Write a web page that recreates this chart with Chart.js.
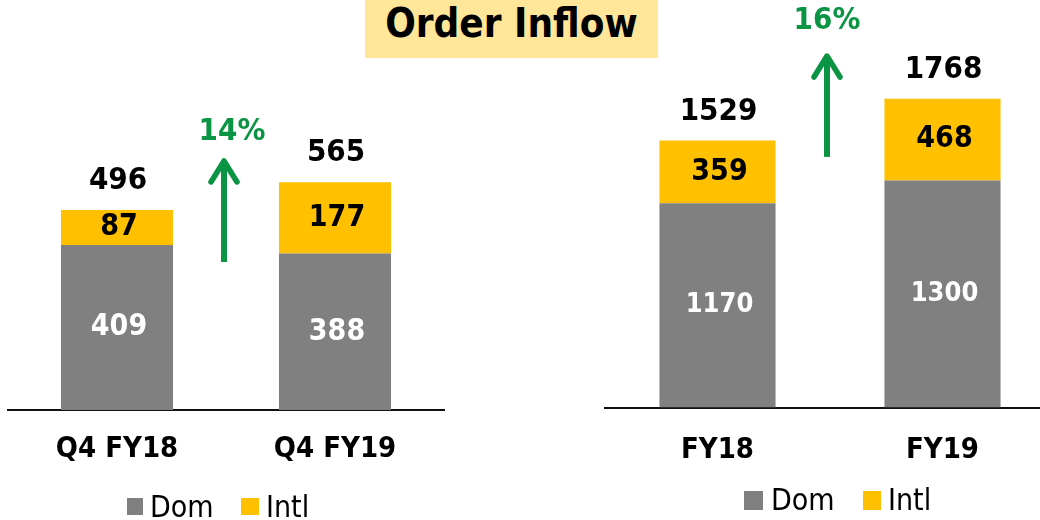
<!DOCTYPE html>
<html>
<head>
<meta charset="utf-8">
<script src="https://cdn.jsdelivr.net/npm/chart.js@4.4.1/dist/chart.umd.min.js"></script>
<style>
  html, body { margin: 0; padding: 0; }
  body { width: 1040px; height: 520px; overflow: hidden; background: #fff; position: relative;
         font-family: 'DejaVu Sans Condensed', 'DejaVu Sans', sans-serif; }
  canvas { position: absolute; top: 0; }
  #left { left: 0; }
  #right { left: 600px; }
  #title { position: absolute; left: 365px; top: 0; width: 293px; height: 58px; background: #FFE699;
           text-align: center; font-weight: bold; font-size: 40px; line-height: 47px; color: #000; }
  .sq { position: absolute; }
  .lg { position: absolute; font-size: 30px; line-height: 30px; color: #000; white-space: nowrap; }
</style>
</head>
<body>
<div id="title">Order Inflow</div>
<canvas id="left" width="460" height="520"></canvas>
<canvas id="right" width="470" height="520"></canvas>

<div class="sq" style="left:127px;top:498px;width:16px;height:17px;background:#808080"></div>
<div class="lg" style="left:150px;top:492px">Dom</div>
<div class="sq" style="left:241px;top:498px;width:18px;height:17px;background:#FFC000"></div>
<div class="lg" style="left:266px;top:492px">Intl</div>

<div class="sq" style="left:744px;top:491px;width:19px;height:19px;background:#808080"></div>
<div class="lg" style="left:771px;top:485px">Dom</div>
<div class="sq" style="left:863px;top:491px;width:18px;height:19px;background:#FFC000"></div>
<div class="lg" style="left:888px;top:485px">Intl</div>

<script>
// quarter chart
var quarterLabels = ['Q4 FY18', 'Q4 FY19'];
var quarterDom = [409, 388];
var quarterIntl = [87, 177];
var quarterTotal = [496, 565];

// full year chart
var yearLabels = ['FY18', 'FY19'];
var yearDom = [1170, 1300];
var yearIntl = [359, 468];
var yearTotal = [1529, 1768];

var growthLabels = ['14%', '16%'];
var seriesNames = ['Dom', 'Intl'];

var FONT = "'DejaVu Sans Condensed', 'DejaVu Sans', sans-serif";
var GREY = '#808080';
var YELLOW = '#FFC000';
var GREEN = '#0B9444';

// draws segment values, totals and the growth arrow
var barLabels = {
    id: 'barLabels',
    afterDatasetsDraw: function (chart, args, opts) {
        var ctx = chart.ctx;
        var xs = chart.scales.x, ys = chart.scales.y;
        ctx.save();
        ctx.textAlign = 'center';
        ctx.textBaseline = 'middle';

        chart.data.datasets.forEach(function (ds, di) {
            var meta = chart.getDatasetMeta(di);
            ctx.fillStyle = ds.labelColor;
            ctx.font = 'bold ' + opts.segSize[di] + 'px ' + FONT;
            meta.data.forEach(function (bar, i) {
                ctx.fillText(ds.data[i], bar.x + 2, (bar.y + bar.base) / 2);
            });
        });

        var topMeta = chart.getDatasetMeta(chart.data.datasets.length - 1);
        ctx.fillStyle = '#000';
        ctx.font = 'bold 31px ' + FONT;
        opts.totals.forEach(function (t, i) {
            var bar = topMeta.data[i];
            ctx.fillText(t, bar.x + 1, bar.y - 29);
        });

        // growth arrow between the two bars
        var mid = (xs.getPixelForValue(0) + xs.getPixelForValue(1)) / 2;
        var ax = mid + opts.arrowDx;
        var y0 = ys.getPixelForValue(opts.arrowFrom);
        var y1 = ys.getPixelForValue(opts.arrowTo);
        ctx.strokeStyle = GREEN;
        ctx.lineWidth = 6;
        ctx.lineCap = 'butt';
        ctx.beginPath();
        ctx.moveTo(ax, y0);
        ctx.lineTo(ax, y1 + 4);
        ctx.stroke();
        ctx.lineCap = 'round';
        ctx.lineJoin = 'round';
        ctx.lineWidth = 5.5;
        ctx.beginPath();
        ctx.moveTo(ax - 13, y1 + 24);
        ctx.lineTo(ax, y1 + 3);
        ctx.lineTo(ax + 13, y1 + 24);
        ctx.stroke();

        ctx.fillStyle = GREEN;
        ctx.font = 'bold 31px ' + FONT;
        ctx.fillText(opts.growth, mid + opts.growthDx, ys.getPixelForValue(opts.growthAt));
        ctx.restore();
    }
};

function makeChart(id, labels, dom, intl, cfg) {
    return new Chart(document.getElementById(id), {
        type: 'bar',
        data: {
            labels: labels,
            datasets: [
                { label: seriesNames[0], data: dom, backgroundColor: GREY, labelColor: '#fff' },
                { label: seriesNames[1], data: intl, backgroundColor: YELLOW, labelColor: '#000' }
            ]
        },
        options: {
            responsive: false,
            animation: false,
            layout: { padding: cfg.padding },
            datasets: { bar: { categoryPercentage: 1, barPercentage: cfg.barPct } },
            plugins: {
                legend: { display: false },
                tooltip: { enabled: false },
                barLabels: cfg.labels
            },
            scales: {
                x: {
                    stacked: true,
                    grid: { display: false },
                    border: { display: true, color: '#111', width: 2 },
                    ticks: {
                        color: '#000',
                        padding: cfg.tickPad,
                        font: { family: FONT, size: 29, weight: 'bold', lineHeight: 1.2 }
                    }
                },
                y: { stacked: true, display: false, min: 0, max: cfg.max }
            }
        },
        plugins: [barLabels]
    });
}

makeChart('left', quarterLabels, quarterDom, quarterIntl, {
    padding: { left: 8, right: 16, top: 6.7, bottom: 39.2 },
    barPct: 0.514,
    tickPad: 14,
    max: 1000,
    labels: {
        totals: quarterTotal, segSize: [30, 30], growth: growthLabels[0],
        arrowFrom: 367, arrowTo: 625, arrowDx: -2, growthAt: 689, growthDx: 6
    }
});

makeChart('right', yearLabels, yearDom, yearIntl, {
    padding: { left: 5, right: 15, top: 5.9, bottom: 34.7 },
    barPct: 0.516,
    tickPad: 17.5,
    max: 2300,
    labels: {
        totals: yearTotal, segSize: [27, 30], growth: growthLabels[1],
        arrowFrom: 1435, arrowTo: 2030, arrowDx: -3, growthAt: 2213, growthDx: -3
    }
});
</script>
</body>
</html>
